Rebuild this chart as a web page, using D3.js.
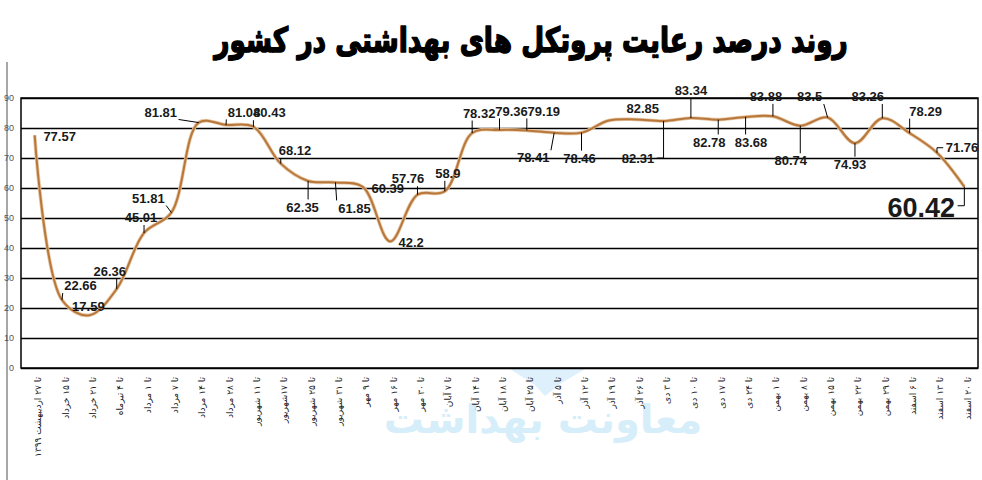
<!DOCTYPE html>
<html><head><meta charset="utf-8">
<script src="https://cdn.jsdelivr.net/npm/d3@7"></script>
<style>
html,body{margin:0;padding:0;background:#fff;}
svg{display:block;}
</style></head>
<body>
<svg id="chart" width="982" height="480"></svg>
<script>
const titleText = "روند درصد رعایت پروتکل های بهداشتی در کشور";
const watermarkText = "معاونت بهداشت";
const categories = [
  "تا ۲۷ اردیبهشت ۱۳۹۹","تا ۱۵ خرداد","تا ۲۱ خرداد","تا ۴ تیرماه","تا ۱ مرداد","تا ۷ مرداد",
  "تا ۱۴ مرداد","تا ۲۸ مرداد","تا ۱۱ شهریور","تا ۱۷شهریور","تا ۲۵ شهریور","تا ۳۱ شهریور",
  "تا ۹ مهر","تا ۱۶ مهر","تا ۳۰ مهر","تا ۷ آبان","تا ۱۴ آبان","تا ۱۸ آبان","تا ۲۵ آبان",
  "تا ۵ آذر","تا ۱۲ آذر","تا ۱۹ آذر","تا ۲۶ آذر","تا ۳ دی","تا ۱۰ دی","تا ۱۷ دی","تا ۲۴ دی",
  "تا ۱ بهمن","تا ۸ بهمن","تا ۱۵ بهمن","تا ۲۲ بهمن","تا ۲۹ بهمن","تا ۶ اسفند","تا ۱۳ اسفند","تا ۲۰ اسفند"
];
const values = [
  77.57, 22.66, 17.59, 26.36, 45.01, 51.81, 81.81, 81.04, 80.43, 68.12, 62.35, 61.85,
  60.39, 42.2, 57.76, 58.9, 78.32, 79.36, 79.19, 78.41, 78.46, 82.5, 82.85, 82.31,
  83.34, 82.78, 83.68, 83.88, 80.74, 83.5, 74.93, 83.26, 78.29, 71.76, 60.42
];
// whether the value has a data label in the original
const labelShown = values.map((v,i) => i !== 21);
const yTicks = [0,10,20,30,40,50,60,70,80,90];

// label placement (offset of label centre from point, px) and leader type: 0 none, 1 straight, 2 elbow
const labelOffsets = [
  [25,1,0],[18.5,-14.5,1],[-1,-9,0],[-7,-18,1],[-3,-15.5,1],[-23,-14.6,1],[-38,-10.6,1],
  [18,-13,1],[16,-14,1],[14.3,-13,1],[-5.5,26,1],[19,25.5,1],[25,1.7,0],[21,1,0],
  [-9.5,-16,1],[3,-18,1],[7,-20,1],[12,-19,1],[17,-19.5,1],[-21,25,1],[-2,25.5,1],
  null,[6.5,-11,0],[-25.5,37,2],[0,-27.5,1],[-9,22.3,1],[5.5,25,1],[-7,-20,1],
  [-9.5,35,1],[-18,-21,1],[-5,21,1],[-14.5,-21.7,1],[16,-22,1],[25,-5,2],[-43,21,2]
];

const svg = d3.select("#chart");
const plot = {left:21, right:978, top:98, bottom:368};

const x = d3.scalePoint().domain(d3.range(categories.length)).range([plot.left, plot.right]).padding(0.5);
const y = d3.scaleLinear().domain([0,90]).range([plot.bottom, plot.top]);

// outer left frame line
svg.append("line").attr("x1",7).attr("x2",7).attr("y1",62).attr("y2",480)
  .attr("stroke","#8a8a8a").attr("stroke-width",1.5);

// watermark
const wm = svg.append("g").attr("class","watermark");
wm.append("path")
  .attr("d", d3.line()([[510,369],[585,369],[560,384],[545,396],[535,385]]))
  .attr("fill","#ddf0fb");
wm.append("text").attr("x",543).attr("y",433).attr("text-anchor","middle")
  .attr("font-family","DejaVu Sans").attr("font-weight","bold").attr("font-size",40)
  .attr("fill","#d6edfa").text(watermarkText);

// gridlines
svg.append("g").attr("transform",`translate(${plot.left},0)`)
  .call(d3.axisLeft(y).tickValues(yTicks).tickSize(-(plot.right-plot.left)).tickFormat(""))
  .call(g => g.select(".domain").remove())
  .call(g => g.selectAll(".tick line").attr("stroke","#000").attr("stroke-width",1.3));

// y tick labels
svg.append("g").attr("transform","translate(14,0)")
  .call(d3.axisLeft(y).tickValues(yTicks).tickSize(0).tickPadding(0))
  .call(g => g.select(".domain").remove())
  .call(g => g.selectAll("text").attr("font-family","Liberation Sans").attr("font-size",9).attr("fill","#555"));

// plot frame
svg.append("rect").attr("x",plot.left).attr("y",plot.top)
  .attr("width",plot.right-plot.left).attr("height",plot.bottom-plot.top)
  .attr("fill","none").attr("stroke","#000").attr("stroke-width",1.5);

// x labels
svg.append("g").attr("transform",`translate(0,${plot.bottom})`)
  .call(d3.axisBottom(x).tickSize(0).tickFormat(i => categories[i]))
  .call(g => g.select(".domain").remove())
  .call(g => g.selectAll("text")
     .attr("font-family","DejaVu Sans").attr("font-size",9).attr("fill","#222")
     .attr("text-anchor","end")
     .attr("transform","translate(6,9) rotate(-90)")
     .attr("x",0).attr("y",0).attr("dy","0"));

// line
const line = d3.line().x((d,i)=>x(i)).y(d=>y(d)).curve(d3.curveCatmullRom.alpha(0.5));
svg.append("path").datum(values).attr("d",line)
  .attr("fill","none").attr("stroke","#e6c6a2").attr("stroke-width",3.6).attr("stroke-linejoin","round");
svg.append("path").datum(values).attr("d",line)
  .attr("fill","none").attr("stroke","#b8773b").attr("stroke-width",2).attr("stroke-linejoin","round");

// data labels
const lblG = svg.append("g");
values.forEach((v,i) => {
  if (!labelShown[i]) return;
  const off = labelOffsets[i];
  const px = x(i), py = y(v);
  const cx = px + off[0], cy = py + off[1];
  const big = i === values.length - 1;
  const t = lblG.append("text").attr("x",cx).attr("y",cy).attr("dy","0.36em")
    .attr("text-anchor","middle")
    .attr("font-family","Liberation Sans").attr("font-weight","bold")
    .attr("font-size", big ? 27 : 13).attr("fill","#1a1a1a").text(v);
  if (off[2] === 0) return;
  const bb = t.node().getBBox();
  const pad = 1.5;
  const bx0 = bb.x - pad, bx1 = bb.x + bb.width + pad;
  const by0 = cy - (big?11:6) - pad, by1 = cy + (big?11:6) + pad;
  let pts;
  if (off[2] === 1) {
    const ex = Math.max(bx0, Math.min(px, bx1));
    const ey = Math.max(by0, Math.min(py, by1));
    pts = [[px,py],[ex,ey]];
  } else {
    const ex = px > bx1 ? bx1 + 1 : bx0 - 1;
    const ey = big ? cy - 2 : cy;
    pts = [[px,py],[px,ey],[ex,ey]];
  }
  lblG.append("path").attr("d", d3.line()(pts)).attr("fill","none")
    .attr("stroke","#000").attr("stroke-width",1);
});

// title
const titleG = svg.append("g").attr("transform","translate(531,52) scale(1,1.3)");
const title = titleG.append("text").attr("x",0).attr("y",0).attr("text-anchor","middle")
  .attr("font-family","DejaVu Sans").attr("font-weight","bold").attr("font-size",32)
  .attr("fill","#000").attr("stroke","#000").attr("stroke-width",1.2)
  .attr("stroke-linejoin","round").text(titleText);
const tw = title.node().getComputedTextLength();
title.attr("font-size", 32 * 634 / tw);
</script>
</body></html>
